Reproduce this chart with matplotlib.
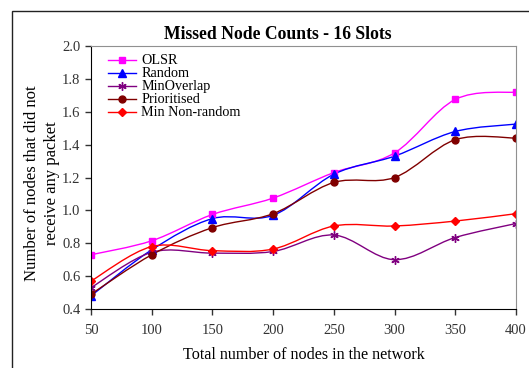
import numpy as np
import matplotlib.pyplot as plt
from matplotlib.path import Path
from matplotlib.patches import PathPatch, Rectangle
from matplotlib.lines import Line2D

plt.rcParams['font.family'] = ['Liberation Serif', 'DejaVu Serif']

# dados
nodes = ['50', '100', '150', '200', '250', '300', '350', '400']
olsr = [0.73, 0.815, 0.975, 1.075, 1.23, 1.35, 1.675, 1.72]
random_ = [0.48, 0.76, 0.95, 0.97, 1.22, 1.33, 1.48, 1.525]
min_overlap = [0.53, 0.745, 0.74, 0.75, 0.85, 0.70, 0.835, 0.92]
prioritised = [0.49, 0.73, 0.895, 0.98, 1.17, 1.20, 1.43, 1.44]
min_nonrandom = [0.57, 0.78, 0.755, 0.765, 0.905, 0.905, 0.935, 0.98]

series = [
    ('OLSR', olsr, '#FF00FF', 's', 5),
    ('Random', random_, '#0000FF', '^', 5.5),
    ('MinOverlap', min_overlap, '#800080', (6, 2, 0), 6),
    ('Prioritised', prioritised, '#800000', 'o', 5),
    ('Min Non-random', min_nonrandom, '#FF0000', 'D', 4.5),
]


def curva_suave(ax, xs, ys, cor):
    # linha suavizada estilo Excel (bezier tipo Catmull-Rom)
    pts = np.column_stack([xs, ys]).astype(float)
    n = len(pts)
    verts = [pts[0]]
    codes = [Path.MOVETO]
    for i in range(n - 1):
        p0 = pts[max(i - 1, 0)]
        p1 = pts[i]
        p2 = pts[i + 1]
        p3 = pts[min(i + 2, n - 1)]
        c1 = p1 + (p2 - p0) / 6
        c2 = p2 - (p3 - p1) / 6
        verts += [c1, c2, p2]
        codes += [Path.CURVE4] * 3
    patch = PathPatch(Path(verts, codes), facecolor='none', edgecolor=cor, lw=1.0)
    ax.add_patch(patch)


fig = plt.figure(figsize=(5.29, 3.68), dpi=100)
ax = fig.add_axes([0.172, 0.1603, 0.8034, 0.7147])

x = np.arange(len(nodes))
handles = []
for nome, vals, cor, mk, ms in series:
    curva_suave(ax, x, vals, cor)
    ax.plot(x, vals, linestyle='none', marker=mk, markersize=ms, color=cor,
            markeredgecolor=cor, markeredgewidth=1.0)
    handles.append(Line2D([], [], color=cor, lw=1.0, marker=mk, markersize=ms,
                          markeredgecolor=cor, markeredgewidth=1.0))

ax.set_xlim(0, len(nodes) - 1)
ax.set_ylim(0.4, 2.0)
ax.set_xticks(x)
ax.set_xticklabels(nodes)
ax.set_yticks(np.arange(0.4, 2.01, 0.2))
ax.set_yticklabels([f'{v:.1f}' for v in np.arange(0.4, 2.01, 0.2)])
ax.tick_params(labelsize=10.5, colors='#333333', length=4, width=1, direction='out')
ax.tick_params(axis='x', pad=7)

for s in ['top', 'right']:
    ax.spines[s].set_color('#909090')
ax.spines['left'].set_color('black')
ax.spines['bottom'].set_color('black')

ax.set_title('Missed Node Counts - 16 Slots', fontsize=12.7, fontweight='bold',
             x=0.44, pad=5)
ax.set_xlabel('Total number of nodes in the network', fontsize=11.6, labelpad=7)
ax.set_ylabel('Number of nodes that did not\nreceive any packet', fontsize=12,
              multialignment='center', linespacing=1.3)
ax.yaxis.set_label_coords(-0.074, 0.48)

ax.legend(handles, [s[0] for s in series], loc='upper left', frameon=False,
          fontsize=10.2, handlelength=2.0, handletextpad=0.35, labelspacing=0.0,
          borderaxespad=0.2, bbox_to_anchor=(0.02, 1.0))

# moldura externa
fig.add_artist(Rectangle((12 / 529, -0.1), 1.2, 1 - 10.5 / 368 + 0.1,
                         transform=fig.transFigure, fill=False, edgecolor='#222222', lw=1.0))

fig.savefig('out.png', dpi=100)
